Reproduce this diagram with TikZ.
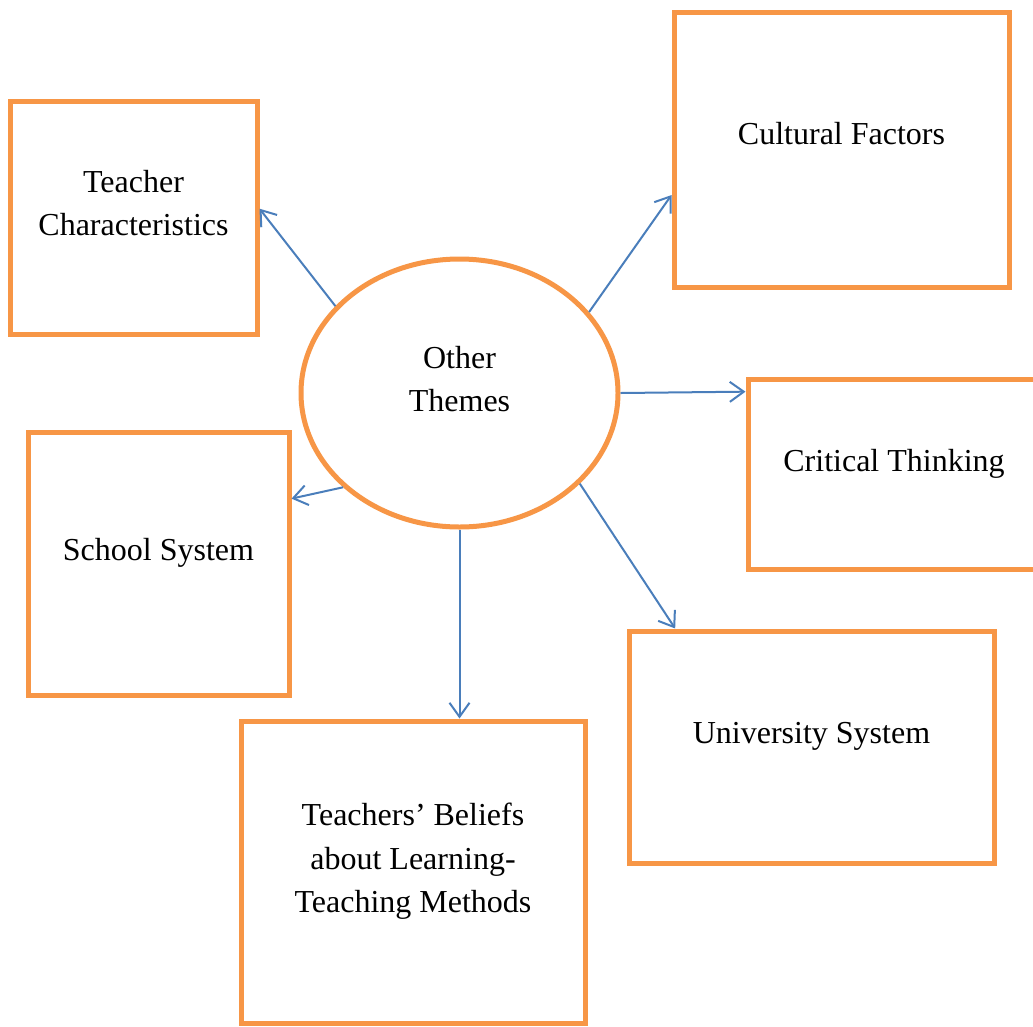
\documentclass[tikz,border=0pt]{standalone}
\usepackage{fontspec}
\setmainfont{Liberation Serif}
\usetikzlibrary{arrows.meta,shapes.geometric}
\definecolor{boxorange}{HTML}{F79646}
\definecolor{arrowblue}{HTML}{4A7EBB}
\tikzset{
  themebox/.style={draw=boxorange, line width=5pt, inner sep=0pt, fill=white},
  themetext/.style={font=\fontsize{32}{43.5}\selectfont, align=center, yshift=10.5pt},
  link/.style={draw=arrowblue, line width=2pt, -{Straight Barb[length=14pt,width=20pt]}}
}
\begin{document}
\begin{tikzpicture}[x=1pt,y=-1pt]
  \clip (0,0) rectangle (1033,1026);

  % Centre theme
  \node [themebox, ellipse, minimum width=317pt, minimum height=268pt,
         label={[themetext, yshift=3.5pt]center:Other\\Themes}] (ot) at (459.5,393) {};

  % Teacher Characteristics
  \node [themebox, minimum width=247pt, minimum height=233pt,
         label={[themetext, yshift=4pt]center:Teacher\\Characteristics}] (tc) at (133.5,217.5) {};

  % Cultural Factors
  \node [themebox, minimum width=335pt, minimum height=275pt,
         label={[themetext, yshift=5.5pt]center:Cultural Factors}] (cf) at (841.5,149.5) {};

  % Critical Thinking
  \node [themebox, minimum width=292pt, minimum height=190pt,
         label={[themetext]center:Critical Thinking}] (ct) at (894,474) {};

  % School System
  \node [themebox, minimum width=261pt, minimum height=263pt,
         label={[themetext]center:School System}] (ss) at (158.5,563.5) {};

  % University System
  \node [themebox, minimum width=365pt, minimum height=232pt,
         label={[themetext]center:University System}] (us) at (811.5,747) {};

  % Teachers' Beliefs
  \node [themebox, minimum width=344pt, minimum height=302pt,
         label={[themetext]center:Teachers’ Beliefs\\about Learning-\\Teaching Methods}] (tb) at (413,872) {};

  % Links from the centre
  \draw [link] (ot.145) -- (tc.4);
  \draw [link] (ot.32) -- (cf.195);
  \draw [link] (ot.0) -- (ct.151);
  \draw [link] (ot.219) -- (ss.26);
  \draw [link] (ot.south) -- (ot.south |- tb.north);
  \draw [link] (ot.323) -- (us.139.5);
\end{tikzpicture}
\end{document}
